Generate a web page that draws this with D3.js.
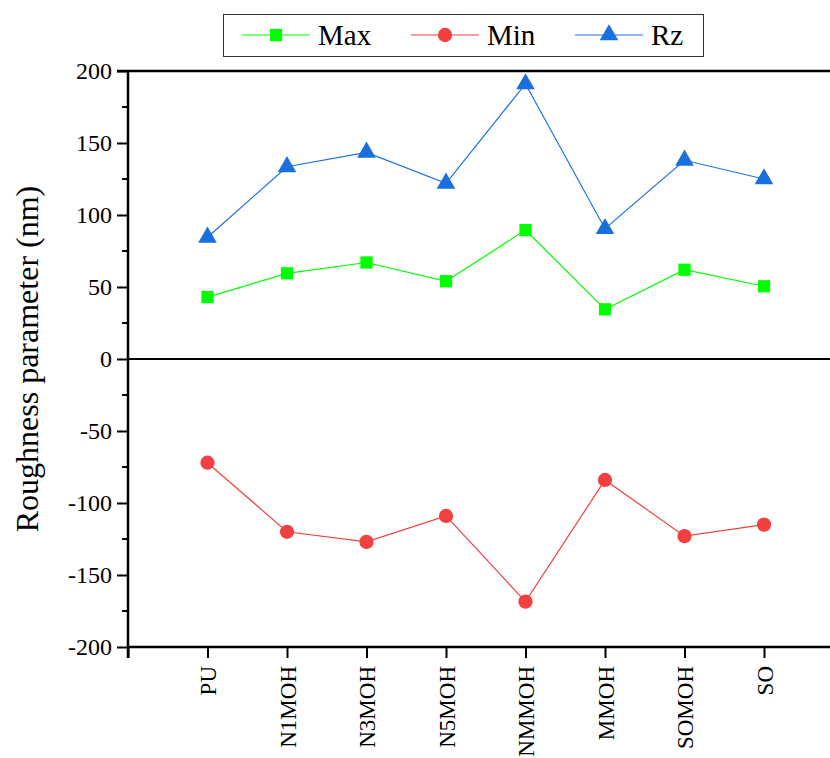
<!DOCTYPE html>
<html>
<head>
<meta charset="utf-8">
<script src="https://cdn.jsdelivr.net/npm/d3@7"></script>
</head>
<body style="margin:0;background:#fff">
<script>
var categories = ["PU", "N1MOH", "N3MOH", "N5MOH", "NMMOH", "MMOH", "SOMOH", "SO"];
var maxValues = [43, 59.5, 67, 54, 89.5, 34.5, 62, 50.5];
var minValues = [-72, -120, -127, -109, -168.5, -84, -123, -115];
var rzValues = [84.5, 133.5, 143.5, 122, 191, 90.5, 138, 125];
var yTicks = [-200, -150, -100, -50, 0, 50, 100, 150, 200];

var W = 830, H = 758;
var left = 128, plotTop = 71, bottom = 647;

var svg = d3.select('body').append('svg')
	.attr('width', W).attr('height', H).style('display', 'block');

function serif(sel){
	sel.attr('font-family', 'Liberation Serif').style('font-family', "'Liberation Serif'");
	return sel;
}

// x runs 0..9, categories at 1..8, right edge falls off the canvas
var x = d3.scaleLinear().domain([0, 9]).range([left, left + 9 * 79.5]);
var y = d3.scaleLinear().domain([-200, 200]).range([bottom, plotTop]);

var series = [
	{name: 'Max', values: maxValues, color: '#00ff00', shape: d3.symbolSquare, size: 150},
	{name: 'Min', values: minValues, color: '#f04040', shape: d3.symbolCircle, size: 160},
	{name: 'Rz', values: rzValues, color: '#1a6fdf', shape: d3.symbolTriangle, size: 150}
];

// frame lines
svg.append('line').attr('x1', left - 11).attr('x2', W).attr('y1', y(200)).attr('y2', y(200))
	.attr('stroke', '#000').attr('stroke-width', 2.5);
svg.append('line').attr('x1', left).attr('x2', W).attr('y1', y(0)).attr('y2', y(0))
	.attr('stroke', '#000').attr('stroke-width', 2);

// y axis
var yAxis = d3.axisLeft(y).tickValues(yTicks).tickSize(11).tickPadding(5)
	.tickFormat(function(d){ return String(d); });
var gy = svg.append('g').attr('transform', 'translate(' + left + ',0)').call(yAxis);
gy.select('.domain').remove();
serif(gy);
gy.selectAll('.tick line').attr('stroke-width', 2);
serif(gy.selectAll('.tick text').attr('font-size', 24).attr('fill', '#000'));
var minors = d3.range(-175, 200, 50);
gy.selectAll('.minor').data(minors).enter().append('line')
	.attr('x1', -6).attr('x2', 0).attr('y1', function(d){ return y(d); }).attr('y2', function(d){ return y(d); })
	.attr('stroke', '#000').attr('stroke-width', 2);
svg.append('line').attr('x1', left).attr('x2', left).attr('y1', y(200) - 1).attr('y2', bottom + 11)
	.attr('stroke', '#000').attr('stroke-width', 2.5);

// x axis
var xAxis = d3.axisBottom(x).tickValues(d3.range(0, 9)).tickSize(11).tickPadding(10)
	.tickFormat(function(d){ return d > 0 ? categories[d - 1] : ''; });
var gx = svg.append('g').attr('transform', 'translate(0,' + bottom + ')').call(xAxis);
gx.select('.domain').remove();
serif(gx);
gx.selectAll('.tick line').attr('stroke-width', 2);
serif(gx.selectAll('.tick text').attr('font-size', 23).attr('fill', '#000'))
	.attr('transform', 'rotate(-90)').attr('text-anchor', 'end')
	.attr('x', -19).attr('y', 0).attr('dy', '0.35em');
svg.append('line').attr('x1', left).attr('x2', W).attr('y1', bottom).attr('y2', bottom)
	.attr('stroke', '#000').attr('stroke-width', 2.5);

// y title
serif(svg.append('text')).attr('transform', 'translate(38,' + y(0) + ') rotate(-90)')
	.attr('text-anchor', 'middle').attr('font-size', 32)
	.text('Roughness parameter (nm)');

// series
var line = d3.line().x(function(d, i){ return x(i + 1); }).y(function(d){ return y(d); });
series.forEach(function(s){
	svg.append('path').datum(s.values).attr('d', line)
		.attr('fill', 'none').attr('stroke', s.color).attr('stroke-width', 1.2);
	svg.selectAll(null).data(s.values).enter().append('path')
		.attr('d', d3.symbol().type(s.shape).size(s.size))
		.attr('transform', function(d, i){ return 'translate(' + x(i + 1) + ',' + y(d) + ')'; })
		.attr('fill', s.color);
});

// legend
var lg = svg.append('g');
lg.append('rect').attr('x', 223.5).attr('y', 14.5).attr('width', 480).attr('height', 42)
	.attr('fill', '#fff').attr('stroke', '#333').attr('stroke-width', 1);
var lx = [242, 411, 575];
series.forEach(function(s, i){
	var g = lg.append('g').attr('transform', 'translate(' + lx[i] + ',35)');
	g.append('line').attr('x1', 0).attr('x2', 68).attr('stroke', s.color).attr('stroke-width', 1.2);
	g.append('path').attr('d', d3.symbol().type(s.shape).size(s.size))
		.attr('transform', 'translate(34,0)').attr('fill', s.color);
	serif(g.append('text')).attr('x', 76).attr('y', 10).attr('font-size', 29)
		.text(s.name);
});
</script>
</body>
</html>
